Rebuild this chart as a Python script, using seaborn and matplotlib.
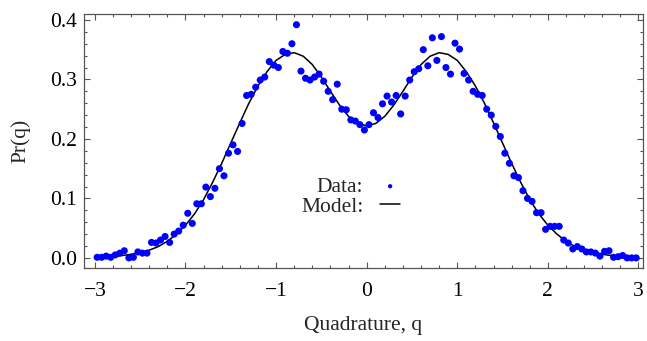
import numpy as np
import pandas as pd
import matplotlib
matplotlib.use('Agg')
import matplotlib.pyplot as plt
from matplotlib.ticker import MultipleLocator, FormatStrFormatter
import seaborn as sns

# measured histogram: bin centres every 0.05 from -2.975 to 2.975
q_data = np.linspace(-2.975, 2.975, 120)
pr_data = [
    0.001, 0.001, 0.003, 0.001, 0.005, 0.008, 0.012, 0.000, 0.001, 0.010,
    0.008, 0.008, 0.026, 0.025, 0.030, 0.036, 0.026, 0.040, 0.045, 0.055,
    0.075, 0.058, 0.091, 0.091, 0.119, 0.103, 0.117, 0.150, 0.138, 0.176,
    0.190, 0.179, 0.226, 0.273, 0.275, 0.287, 0.299, 0.304, 0.330, 0.324,
    0.320, 0.347, 0.344, 0.360, 0.392, 0.314, 0.302, 0.299, 0.304, 0.309,
    0.297, 0.280, 0.266, 0.292, 0.250, 0.249, 0.232, 0.230, 0.224, 0.215,
    0.224, 0.244, 0.236, 0.259, 0.272, 0.262, 0.273, 0.242, 0.272, 0.299,
    0.313, 0.318, 0.350, 0.323, 0.370, 0.332, 0.372, 0.320, 0.309, 0.361,
    0.351, 0.310, 0.299, 0.280, 0.275, 0.273, 0.250, 0.240, 0.221, 0.204,
    0.176, 0.159, 0.138, 0.135, 0.113, 0.100, 0.095, 0.076, 0.076, 0.048,
    0.053, 0.053, 0.053, 0.030, 0.025, 0.015, 0.019, 0.015, 0.010, 0.010,
    0.008, 0.003, 0.011, 0.012, 0.001, 0.002, 0.004, 0.000, 0.000, 0.000,
]

# model curve every 0.1
q_model = np.round(np.arange(-30, 31) / 10, 1)
pr_model = [
    0.001, 0.001, 0.002, 0.004, 0.006, 0.009, 0.013, 0.019, 0.028, 0.040,
    0.055, 0.074, 0.098, 0.127, 0.159, 0.193, 0.227, 0.260, 0.289, 0.313,
    0.332, 0.342, 0.345, 0.339, 0.325, 0.304, 0.280, 0.257, 0.238, 0.226,
    0.222,
    0.226, 0.238, 0.257, 0.280, 0.304, 0.325, 0.339, 0.345, 0.342, 0.332,
    0.313, 0.289, 0.260, 0.227, 0.193, 0.159, 0.127, 0.098, 0.074, 0.055,
    0.040, 0.028, 0.019, 0.013, 0.009, 0.006, 0.004, 0.002, 0.001, 0.001,
]

df_data = pd.DataFrame({'q': q_data, 'pr': pr_data})
df_model = pd.DataFrame({'q': q_model, 'pr': pr_model})

sns.set_style('ticks')
plt.rcParams['font.family'] = ['Liberation Serif', 'DejaVu Serif']
fs = 15.5
frame_col = '#555555'

fig = plt.figure(figsize=(6.47, 3.41), dpi=100)
ax = fig.add_axes([84 / 647, 73 / 341, 559 / 647, 254 / 341])

sns.lineplot(data=df_model, x='q', y='pr', color='black', linewidth=1.1,
             label='Model:', ax=ax)
sns.scatterplot(data=df_data, x='q', y='pr', color='#0000ff', s=26,
                edgecolor='none', label='Data:', ax=ax, zorder=3)

ax.set_xlim(-3.12, 3.05)
ax.set_ylim(-0.017, 0.41)
ax.xaxis.set_major_locator(MultipleLocator(1))
ax.xaxis.set_minor_locator(MultipleLocator(0.2))
ax.yaxis.set_major_locator(MultipleLocator(0.1))
ax.yaxis.set_minor_locator(MultipleLocator(0.02))
ax.yaxis.set_major_formatter(FormatStrFormatter('%.1f'))

ax.tick_params(which='both', direction='in', top=True, right=True,
               color=frame_col, width=0.8, labelsize=fs, labelcolor='black')
ax.tick_params(which='major', length=4)
ax.tick_params(which='minor', length=2)
ax.tick_params(axis='x', which='major', pad=10)
ax.tick_params(axis='y', which='major', pad=5)
for sp in ax.spines.values():
    sp.set_color(frame_col)
    sp.set_linewidth(0.9)

ax.set_xlabel('Quadrature, q', fontsize=fs, labelpad=11)
ax.set_ylabel('Pr(q)', fontsize=fs, labelpad=14)

# legend: label first, then the symbol
handles, labels = ax.get_legend_handles_labels()
order = [labels.index('Data:'), labels.index('Model:')]
ax.legend([handles[i] for i in order], [labels[i] for i in order],
          markerfirst=False, frameon=False, loc='center right',
          bbox_to_anchor=(0.565, 0.28), borderpad=0, borderaxespad=0,
          labelspacing=0.0, handlelength=0.9, handletextpad=0.8,
          fontsize=fs, markerscale=0.6)

fig.savefig('out.png', dpi=100)
